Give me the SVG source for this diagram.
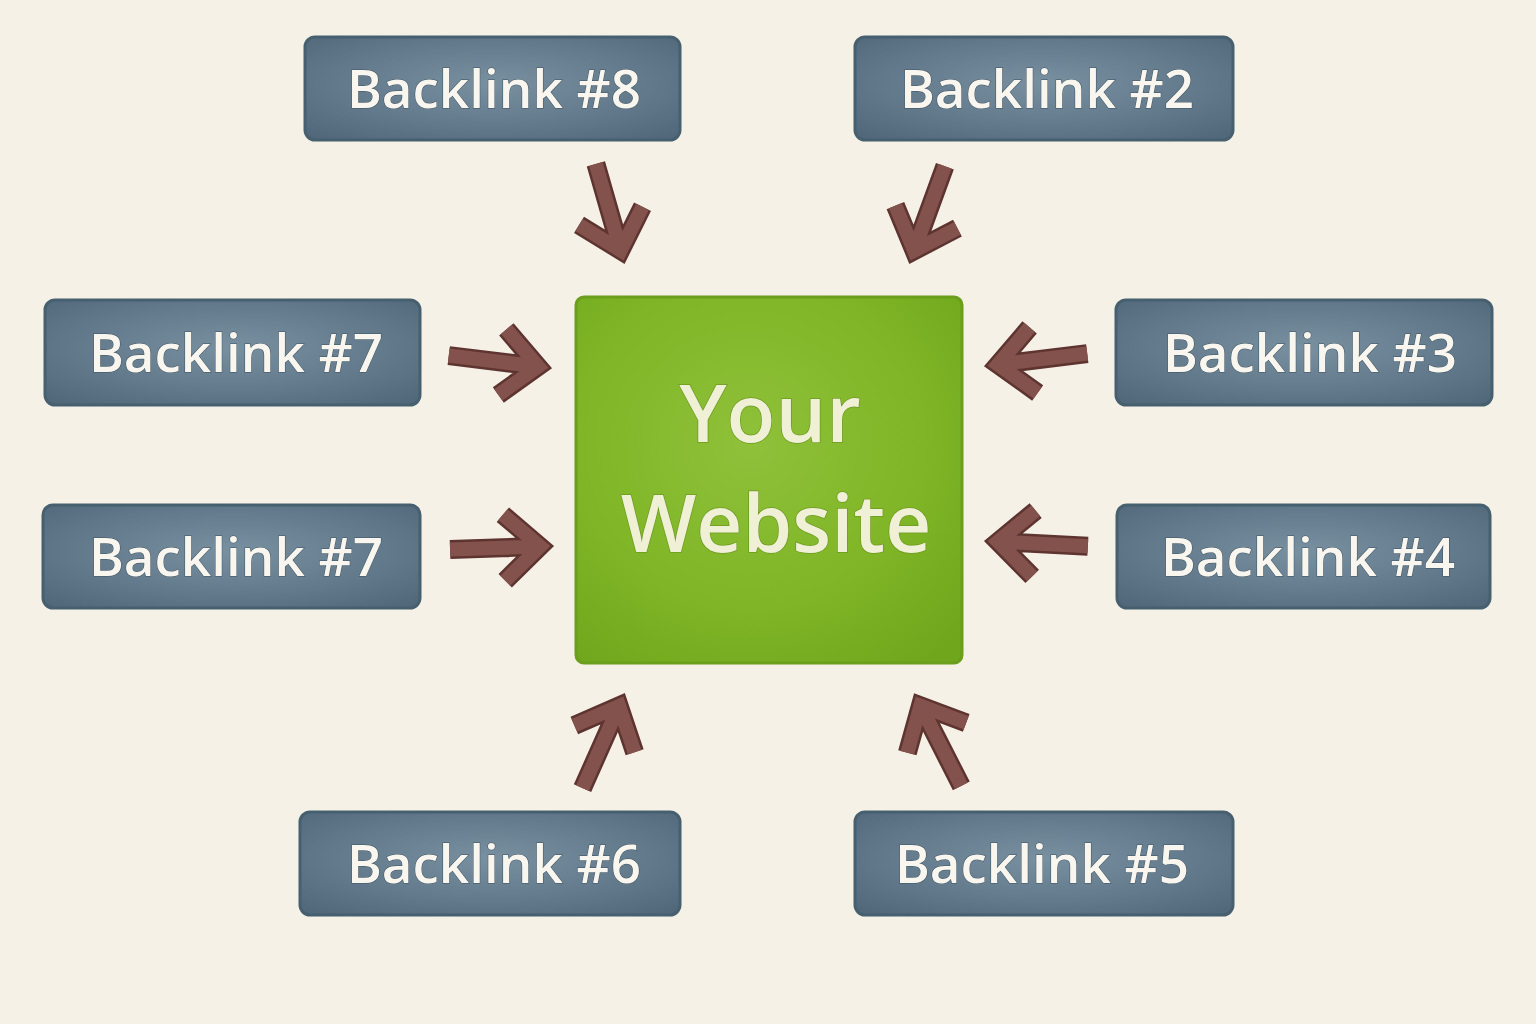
<svg xmlns="http://www.w3.org/2000/svg" xmlns:xlink="http://www.w3.org/1999/xlink" width="1536" height="1024" viewBox="0 0 1536 1024">
  <style>
    .box { fill: url(#slate); stroke: #47606f; stroke-width: 3; }
    .lbl { font-family: "Open Sans", "Noto Sans", sans-serif; font-weight: 600; font-size: 53px; fill: #f8f6ef; stroke: #3e5361; stroke-width: 1; paint-order: stroke; text-anchor: middle; }
    .ctr { font-family: "Open Sans", "Noto Sans", sans-serif; font-weight: 600; font-size: 80px; fill: #eff0d6; stroke: #6f9a20; stroke-width: 1.5; paint-order: stroke; text-anchor: middle; }
    .aro { fill: none; stroke: #5e3430; stroke-width: 19; stroke-linejoin: miter; stroke-linecap: butt; }
    .ari { fill: none; stroke: #84524c; stroke-width: 14; stroke-linejoin: miter; stroke-linecap: butt; }
  </style>
  <defs>
    <radialGradient id="slate" cx="0.5" cy="0.45" r="0.7">
      <stop offset="0" stop-color="#7890a0"/>
      <stop offset="0.6" stop-color="#61798a"/>
      <stop offset="1" stop-color="#50687a"/>
    </radialGradient>
    <radialGradient id="green" cx="0.45" cy="0.4" r="0.75">
      <stop offset="0" stop-color="#8fc13a"/>
      <stop offset="0.6" stop-color="#7fb526"/>
      <stop offset="1" stop-color="#6fa61c"/>
    </radialGradient>
    <path id="arrowShape" d="M-102,0 L-16,0 M-48,-33 L-12,0 L-48,33"/>
  </defs>
  <rect width="1536" height="1024" fill="#f5f1e7"/>

  <g id="connectors">
    <g transform="translate(624,262) rotate(74)"><use href="#arrowShape" class="aro"/><use href="#arrowShape" class="ari"/></g>
    <g transform="translate(910,262) rotate(110)"><use href="#arrowShape" class="aro"/><use href="#arrowShape" class="ari"/></g>
    <g transform="translate(550,368) rotate(7)"><use href="#arrowShape" class="aro"/><use href="#arrowShape" class="ari"/></g>
    <g transform="translate(986,366) rotate(173)"><use href="#arrowShape" class="aro"/><use href="#arrowShape" class="ari"/></g>
    <g transform="translate(552,546) rotate(-2)"><use href="#arrowShape" class="aro"/><use href="#arrowShape" class="ari"/></g>
    <g transform="translate(986,541) rotate(183)"><use href="#arrowShape" class="aro"/><use href="#arrowShape" class="ari"/></g>
    <g transform="translate(624,695) rotate(-66)"><use href="#arrowShape" class="aro"/><use href="#arrowShape" class="ari"/></g>
    <g transform="translate(915,695) rotate(-117)"><use href="#arrowShape" class="aro"/><use href="#arrowShape" class="ari"/></g>
  </g>

  <g id="website">
    <rect x="576" y="297" width="386" height="366" rx="8" fill="url(#green)" stroke="#6a9e1c" stroke-width="3"/>
    <text class="ctr" x="770" y="442">Your</text>
    <text class="ctr" x="776" y="552">Website</text>
  </g>

  <g id="backlink8">
    <rect class="box" x="305" y="37" width="375" height="103" rx="10"/>
    <text class="lbl" x="494" y="108">Backlink #8</text>
  </g>
  <g id="backlink2">
    <rect class="box" x="855" y="37" width="378" height="103" rx="10"/>
    <text class="lbl" x="1047" y="108">Backlink #2</text>
  </g>
  <g id="backlink7a">
    <rect class="box" x="45" y="300" width="375" height="105" rx="10"/>
    <text class="lbl" x="236" y="372">Backlink #7</text>
  </g>
  <g id="backlink3">
    <rect class="box" x="1116" y="300" width="376" height="105" rx="10"/>
    <text class="lbl" x="1310" y="372">Backlink #3</text>
  </g>
  <g id="backlink7b">
    <rect class="box" x="43" y="505" width="377" height="103" rx="10"/>
    <text class="lbl" x="236" y="576">Backlink #7</text>
  </g>
  <g id="backlink4">
    <rect class="box" x="1117" y="505" width="373" height="103" rx="10"/>
    <text class="lbl" x="1308" y="576">Backlink #4</text>
  </g>
  <g id="backlink6">
    <rect class="box" x="300" y="812" width="380" height="103" rx="10"/>
    <text class="lbl" x="494" y="883">Backlink #6</text>
  </g>
  <g id="backlink5">
    <rect class="box" x="855" y="812" width="378" height="103" rx="10"/>
    <text class="lbl" x="1042" y="883">Backlink #5</text>
  </g>
</svg>
